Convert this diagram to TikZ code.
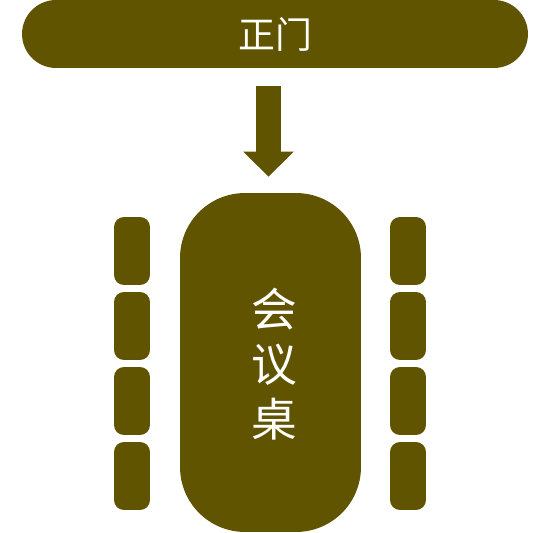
\documentclass[tikz,border=0pt]{standalone}
\usepackage{fontspec}
\newfontfamily\cjk{Noto Sans CJK SC}
\usetikzlibrary{arrows.meta}
\definecolor{olive}{RGB}{96,84,0}

\begin{document}
\begin{tikzpicture}[x=0.02cm,y=-0.02cm,
    block/.style={fill=olive,inner sep=0pt,text=white},
    chair/.style={block,minimum width=0.72cm,minimum height=1.36cm,
      rounded corners=0.2cm}]
    \useasboundingbox (0,0) rectangle (538,533);

    % The main door at the top.
    \node[block,minimum width=10.12cm,minimum height=1.36cm,
      rounded corners=0.68cm,font=\cjk\fontsize{21pt}{25pt}\selectfont]
      (door) at (275,34) {正门};

    % The conference table and its label.
    \node[block,minimum width=3.62cm,minimum height=6.78cm,
      rounded corners=1.3cm] (table) at (270.5,362.5) {};
    \node[text=white,inner sep=0pt,align=center,
      font=\cjk\fontsize{26pt}{31.3pt}\selectfont]
      (tablelabel) at (274,364.5) {会\\议\\桌};

    % The chairs on both sides.
    \foreach \i in {1,...,4} {
      \node[chair] (chairL\i) at (132,{251+75*(\i-1)}) {};
      \node[chair] (chairR\i) at (408,{251+75*(\i-1)}) {};
    }

    % The way in.
    \draw[olive,line width=0.5cm,
      -{Triangle[width=0.98cm,length=0.5cm]},
      shorten <=0.36cm,shorten >=0.32cm]
      (door.south -| table.north) ++(-2,0) coordinate (in)
      (in) -- (in |- table.north);
  \end{tikzpicture}
\end{document}
